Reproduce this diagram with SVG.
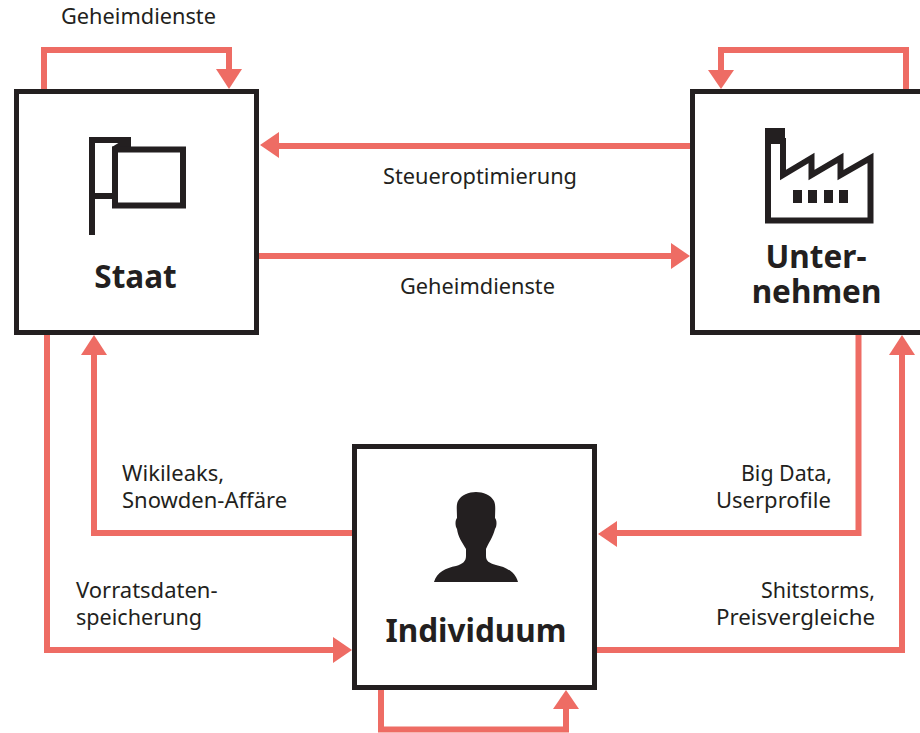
<svg xmlns="http://www.w3.org/2000/svg" width="920" height="733" viewBox="0 0 920 733">
<style>
.c{fill:none;stroke:#ee6c64;stroke-width:6}
.a{fill:#ee6c64;stroke:none}
.b{fill:#fff;stroke:#231f20;stroke-width:5}
.i{fill:none;stroke:#231f20;stroke-width:6}
.f{fill:#231f20;stroke:none}
text{font-family:"Noto Sans","Open Sans","Liberation Sans",sans-serif;fill:#231f20}
.l{font-size:22px}
.t{font-size:31.500px;font-weight:700;text-anchor:middle}
</style>
<rect width="920" height="733" fill="#fff"/>
<g id="connectors">
<path class="c" d="M44 90V50H229V72"/><path class="a" d="M216 69H242L229 89Z"/>
<path class="c" d="M906 90V50H721V72"/><path class="a" d="M708 70H734L721 89Z"/>
<path class="c" d="M690 146H278"/><path class="a" d="M260 145L279 132V158Z"/>
<path class="c" d="M259 256H672"/><path class="a" d="M690 256L671 243V269Z"/>
<path class="c" d="M352 533H94V354"/><path class="a" d="M94 335L81 355H107Z"/>
<path class="c" d="M47 334V650H334"/><path class="a" d="M352 650L333 637V663Z"/>
<path class="c" d="M858.500 334V533H616"/><path class="a" d="M598 534L617 521V547Z"/>
<path class="c" d="M597 650H902V354"/><path class="a" d="M902 335L889 355H915Z"/>
<path class="c" d="M381 690V729.500H566V708"/><path class="a" d="M566 690L553 709H579Z"/>
</g>
<g id="staat">
<rect class="b" x="16.500" y="91.500" width="240" height="241"/>
<path class="i" d="M92 235V140H131"/><path class="i" d="M92 196H115"/>
<path class="f" d="M112 147L120 142H131V150H112Z"/>
<rect class="i" x="115" y="149.500" width="68" height="56"/>
<text class="t" x="135.500" y="288">Staat</text>
</g>
<g id="unternehmen">
<rect class="b" x="692.500" y="91.500" width="240" height="241"/>
<path class="i" d="M768 141V220.500H870.500V158L840.500 175V158L811.500 175V158L783 175V141Z" stroke-miterlimit="8"/>
<rect class="f" x="765" y="128" width="20" height="14"/>
<rect class="f" x="793" y="190" width="9" height="13"/>
<rect class="f" x="808" y="190" width="9" height="13"/>
<rect class="f" x="824" y="190" width="9" height="13"/>
<rect class="f" x="839" y="190" width="9" height="13"/>
<text class="t" x="816" y="268">Unter-</text>
<text class="t" x="816.500" y="303">nehmen</text>
</g>
<g id="individuum">
<rect class="b" x="354.500" y="446.500" width="240" height="241"/>
<path class="f" d="M434 582C437 572 446 568 456 566C463 564 466 561 466 556V549C462 542 458 537 457 529C455 526 455 520 457 518C457 510 456 505 458 501C461 495 469 492 476 492C483 492 491 495 494 501C496 505 495 512 495 518C497 520 497 526 495 529C493 537 489 542 486 549V556C486 561 489 563 496 565C505 567 515 571 518 582Z"/>
<text class="t" x="476" y="642">Individuum</text>
</g>
<g id="labels">
<text class="l" x="61" y="24" textLength="155" lengthAdjust="spacingAndGlyphs">Geheimdienste</text>
<text class="l" x="383" y="184" textLength="194" lengthAdjust="spacingAndGlyphs">Steueroptimierung</text>
<text class="l" x="400" y="294" textLength="155" lengthAdjust="spacingAndGlyphs">Geheimdienste</text>
<text class="l" x="122" y="481">Wikileaks,</text>
<text class="l" x="122" y="508">Snowden-Affäre</text>
<text class="l" x="76" y="598">Vorratsdaten-</text>
<text class="l" x="76" y="625" textLength="126" lengthAdjust="spacingAndGlyphs">speicherung</text>
<text class="l" x="741" y="481" textLength="91" lengthAdjust="spacingAndGlyphs">Big Data,</text>
<text class="l" x="716" y="508">Userprofile</text>
<text class="l" x="761" y="598" textLength="114" lengthAdjust="spacingAndGlyphs">Shitstorms,</text>
<text class="l" x="716" y="625" textLength="159" lengthAdjust="spacingAndGlyphs">Preisvergleiche</text>
</g>
</svg>
